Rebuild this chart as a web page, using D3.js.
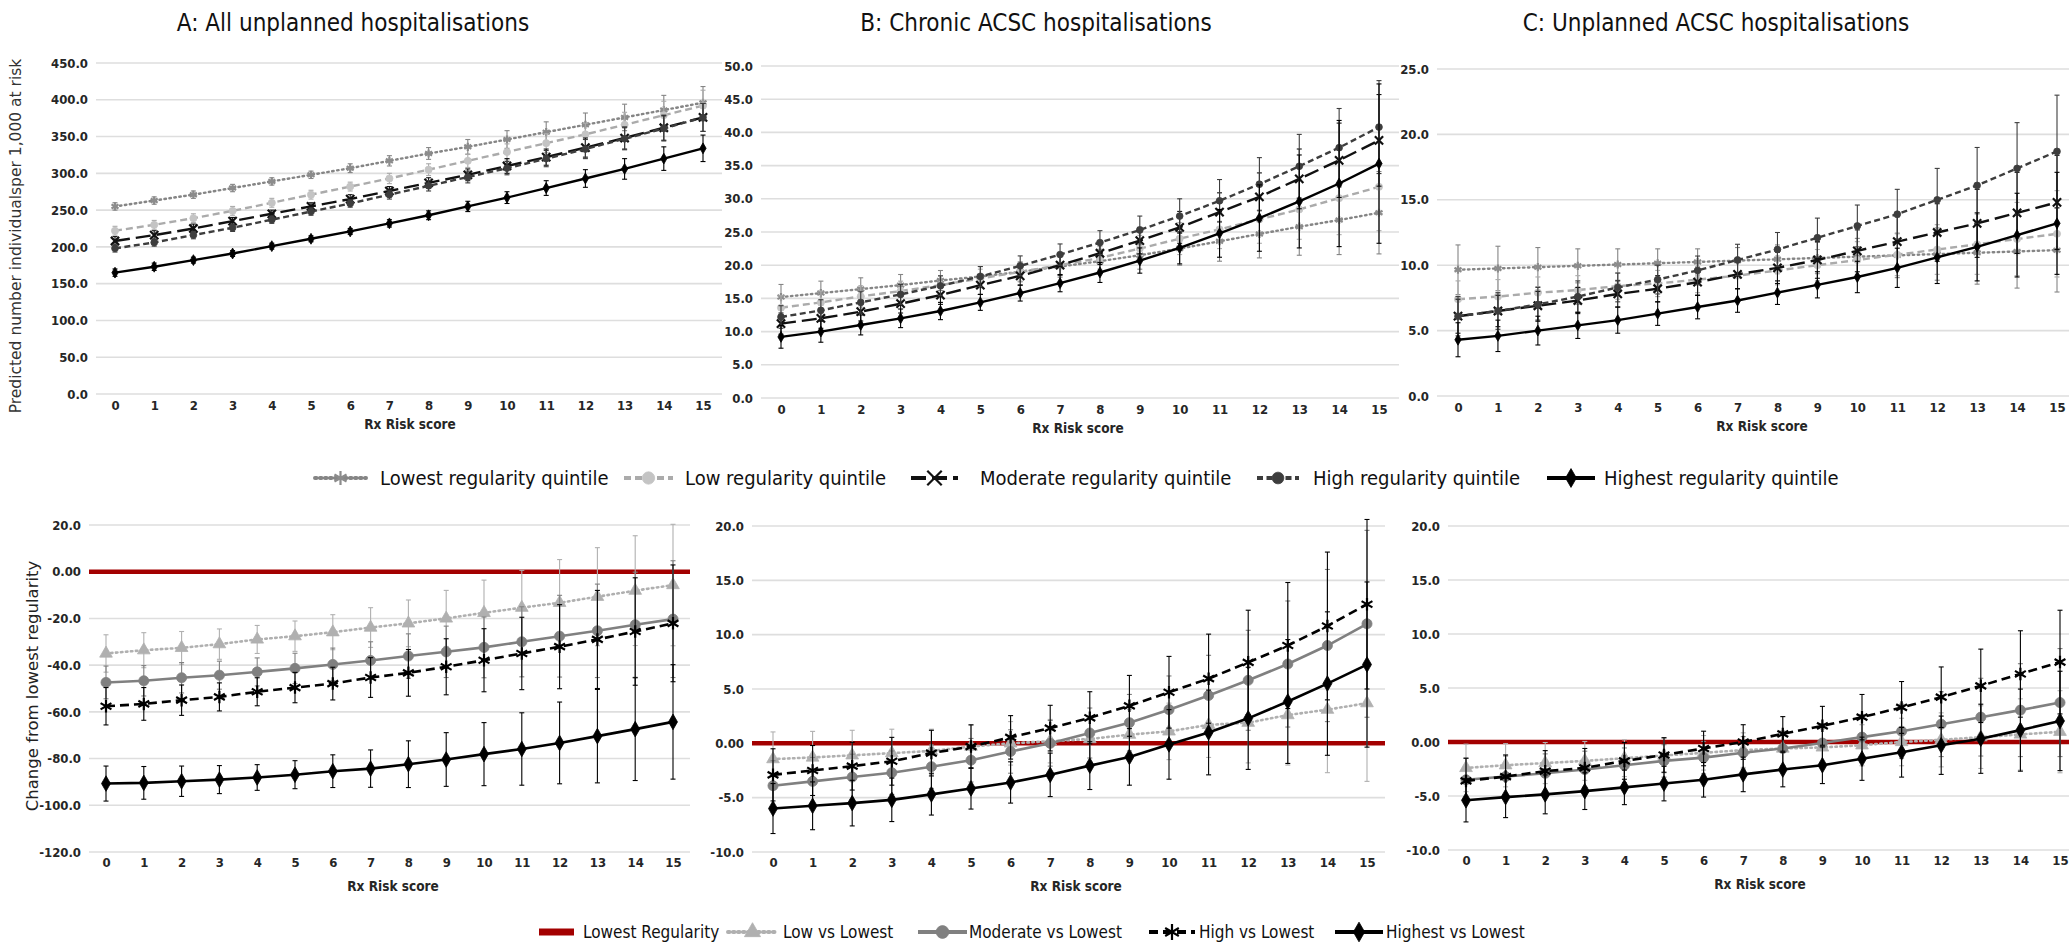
<!DOCTYPE html>
<html>
<head>
<meta charset="utf-8">
<script src="https://cdn.jsdelivr.net/npm/d3@7"></script>
<style>
  body { margin: 0; background: #fff; }
</style>
</head>
<body>
<div id="chart-area"></div>
<script>
// Canvas
var W = 2069, H = 952;
var NARROW = "'Liberation Sans Narrow','DejaVu Sans Condensed','Arial Narrow',sans-serif";
var WIDE = "'DejaVu Sans',Verdana,sans-serif";

// ---------- data ----------
var riskScores = [0,1,2,3,4,5,6,7,8,9,10,11,12,13,14,15];

var panelTitles = ["A: All unplanned hospitalisations", "B: Chronic ACSC hospitalisations", "C: Unplanned ACSC hospitalisations"];
var quintileNames = ["Lowest regularity quintile", "Low regularity quintile", "Moderate regularity quintile", "High regularity quintile", "Highest regularity quintile"];
var contrastNames = ["Lowest Regularity", "Low vs Lowest", "Moderate vs Lowest", "High vs Lowest", "Highest vs Lowest"];

var ticksA = [0,50,100,150,200,250,300,350,400,450];
var ticksB = [0,5,10,15,20,25,30,35,40,45,50];
var ticksC = [0,5,10,15,20,25];
var ticksD = [-120,-100,-80,-60,-40,-20,0,20];
var ticksEF = [-10,-5,0,5,10,15,20];

// A: All unplanned hospitalisations (predicted per 1,000)
var aLowest   = [255,263,271,280,289,298,307,317,327,336,346,356,366,376,386,396];
var aLow      = [222,230,239,249,260,271,282,293,305,317,329,341,353,366,379,392];
var aModerate = [208,216,225,235,245,255,265,276,287,298,310,322,335,348,362,376];
var aHigh     = [198,206,216,226,237,248,259,271,283,295,307,320,333,347,361,376];
var aHighest  = [165,173,182,191,201,211,221,232,243,255,267,280,293,306,320,334];
var aLowestErr   = [5,5,5,5,5,5,6,7,8,10,12,14,16,18,20,22];
var aLowErr      = [6,6,6,6,6,6,6,7,8,9,11,13,15,17,19,21];
var aModerateErr = [6,6,6,5,5,5,6,6,7,8,10,11,13,15,17,19];
var aHighErr     = [5,5,5,5,5,5,5,6,7,8,9,11,13,15,17,19];
var aHighestErr  = [5,5,4,4,4,4,4,5,6,7,8,10,12,14,16,18];

// B: Chronic ACSC hospitalisations
var bLowest   = [15.2,15.8,16.4,17.0,17.7,18.3,19.0,19.8,20.6,21.5,22.5,23.6,24.7,25.8,26.8,27.9];
var bLow      = [13.6,14.4,15.3,16.1,17.0,18.0,19.0,20.0,21.1,22.5,24.0,25.4,26.9,28.4,30.1,31.8];
var bModerate = [11.2,12.0,13.0,14.2,15.5,17.0,18.4,20.0,21.8,23.7,25.7,28.0,30.3,33.0,35.8,38.8];
var bHigh     = [12.2,13.2,14.4,15.6,16.9,18.3,19.9,21.6,23.4,25.3,27.4,29.7,32.2,34.9,37.7,40.8];
var bHighest  = [9.2,10.0,11.0,12.0,13.1,14.4,15.8,17.3,18.9,20.7,22.6,24.8,27.1,29.6,32.3,35.3];
var bLowestErr   = [1.9,1.8,1.7,1.6,1.5,1.5,1.5,1.6,1.8,2.1,2.5,3.0,3.6,4.3,5.2,6.2];
var bLowErr      = [1.8,1.7,1.6,1.5,1.4,1.4,1.4,1.5,1.7,2.0,2.4,2.9,3.6,4.5,5.5,6.6];
var bModerateErr = [1.6,1.5,1.4,1.4,1.4,1.4,1.4,1.5,1.7,2.0,2.4,2.9,3.6,4.5,5.6,6.9];
var bHighErr     = [1.7,1.6,1.6,1.5,1.5,1.5,1.5,1.6,1.8,2.1,2.6,3.2,4.0,4.8,5.9,7.0];
var bHighestErr  = [1.7,1.6,1.5,1.4,1.3,1.2,1.2,1.3,1.5,1.9,2.4,3.6,5.0,7.0,9.5,12.0];

// C: Unplanned ACSC hospitalisations
var cLowest   = [9.65,9.75,9.85,9.95,10.05,10.15,10.25,10.35,10.45,10.55,10.65,10.75,10.85,10.95,11.05,11.15];
var cLow      = [7.4,7.6,7.9,8.1,8.4,8.6,8.9,9.2,9.6,10.0,10.4,10.8,11.2,11.6,12.0,12.4];
var cModerate = [6.1,6.5,6.9,7.3,7.8,8.2,8.7,9.3,9.8,10.4,11.1,11.8,12.5,13.2,14.0,14.8];
var cHigh     = [6.1,6.5,7.0,7.6,8.3,8.9,9.6,10.4,11.2,12.1,13.0,13.9,15.0,16.1,17.4,18.7];
var cHighest  = [4.3,4.6,5.0,5.4,5.8,6.3,6.8,7.3,7.9,8.5,9.1,9.8,10.6,11.4,12.3,13.2];
var cLowestErr   = [1.9,1.7,1.5,1.3,1.2,1.1,1.0,1.0,1.1,1.2,1.4,1.7,2.0,2.4,2.8,3.2];
var cLowErr      = [1.4,1.3,1.2,1.1,1.0,1.0,1.0,1.0,1.1,1.2,1.4,1.6,1.9,2.3,2.8,3.3];
var cModerateErr = [1.3,1.2,1.1,1.0,1.0,1.0,1.0,1.1,1.2,1.4,1.6,1.9,2.2,2.6,3.1,3.6];
var cHighErr     = [1.5,1.4,1.3,1.2,1.1,1.1,1.1,1.2,1.3,1.5,1.6,1.9,2.4,2.9,3.5,4.3];
var cHighestErr  = [1.3,1.2,1.1,1.0,1.0,0.9,0.9,0.9,0.9,1.0,1.2,1.5,2.0,2.6,3.2,3.9];

// D: change vs lowest, all unplanned
var dLow      = [-35,-33.6,-32.6,-31,-29,-27.6,-25.9,-23.9,-22.1,-20,-17.6,-15.4,-13.3,-10.7,-8.1,-5.7];
var dModerate = [-47.4,-46.7,-45.4,-44.3,-42.9,-41.4,-39.7,-38,-36.1,-34.3,-32.4,-30,-27.6,-25.3,-22.7,-20.3];
var dHigh     = [-57.6,-56.6,-55,-53.6,-51.4,-49.6,-47.9,-45.3,-43.3,-40.7,-37.9,-35,-32.1,-29,-25.6,-22.1];
var dHighest  = [-90.7,-90.4,-89.7,-89,-88.1,-86.9,-85.4,-84.3,-82.4,-80.4,-78.1,-75.9,-73.3,-70.4,-67.4,-64.3];
var dLowErr      = [8,7.5,7,6.5,6,6.5,7.5,8.5,10,12,14,16,18.5,21,23.5,26];
var dModerateErr = [7,6.5,6.5,6,6,6.5,7,8,9.5,11,13,15,17.5,20,22.5,25];
var dHighErr     = [8,7,6.5,6,6,6.5,7,8.5,10,12,13.5,15.5,18,21,23,25];
var dHighestErr  = [7.5,7,6.5,6,5.5,6,7,8,10,11.5,13.5,15.5,17.5,20,22,24.5];

// E: change vs lowest, chronic ACSC
var eLow      = [-1.45,-1.3,-1.1,-0.9,-0.7,-0.3,0,0.2,0.4,0.8,1.1,1.7,1.9,2.6,3.1,3.7];
var eModerate = [-3.9,-3.5,-3.1,-2.7,-2.15,-1.55,-0.75,0,0.95,1.9,3.1,4.4,5.8,7.3,9.0,11.0];
var eHigh     = [-2.9,-2.5,-2.1,-1.65,-0.9,-0.3,0.55,1.4,2.35,3.45,4.7,5.95,7.45,9.0,10.8,12.8];
var eHighest  = [-6.0,-5.75,-5.5,-5.2,-4.7,-4.15,-3.6,-2.9,-2.05,-1.25,-0.1,1.0,2.3,3.85,5.5,7.25];
var eLowErr      = [2.5,2.4,2.3,2.2,2.0,2.0,2.0,2.0,2.1,2.3,2.6,3.0,3.7,4.6,5.8,7.2];
var eModerateErr = [2.3,2.2,2.1,2.0,2.0,2.0,2.0,2.1,2.3,2.6,3.1,3.7,4.6,5.8,7.0,8.6];
var eHighErr     = [2.4,2.3,2.2,2.2,2.1,2.0,2.0,2.1,2.4,2.8,3.3,4.1,4.8,5.8,6.8,7.8];
var eHighestErr  = [2.3,2.2,2.1,2.0,1.9,1.9,1.9,2.0,2.2,2.6,3.2,3.9,4.7,5.7,6.6,7.6];

// F: change vs lowest, unplanned ACSC
var fLow      = [-2.4,-2.15,-1.95,-1.75,-1.5,-1.25,-1.0,-0.75,-0.6,-0.5,-0.3,0,0.2,0.45,0.7,0.95];
var fModerate = [-3.5,-3.2,-2.9,-2.55,-2.15,-1.75,-1.45,-1.0,-0.6,-0.1,0.45,1.0,1.65,2.3,2.95,3.65];
var fHigh     = [-3.6,-3.2,-2.7,-2.4,-1.75,-1.2,-0.6,0,0.75,1.5,2.3,3.2,4.15,5.2,6.3,7.4];
var fHighest  = [-5.4,-5.1,-4.85,-4.55,-4.2,-3.85,-3.5,-3.0,-2.55,-2.15,-1.55,-0.95,-0.3,0.3,1.1,1.95];
var fLowErr      = [2.2,2.0,1.9,1.8,1.7,1.6,1.6,1.6,1.6,1.7,1.9,2.2,2.5,2.9,3.3,3.8];
var fModerateErr = [2.0,1.9,1.8,1.7,1.6,1.5,1.5,1.5,1.6,1.8,2.1,2.5,3.0,3.6,4.3,5.0];
var fHighErr     = [2.1,2.0,1.9,1.8,1.7,1.6,1.6,1.6,1.6,1.8,2.1,2.4,2.8,3.4,4.0,4.8];
var fHighestErr  = [2.0,1.9,1.8,1.7,1.6,1.6,1.6,1.6,1.6,1.7,2.0,2.3,2.7,3.2,3.8,4.6];

// ---------- styles ----------
var quintileStyles = [
  { color: "#858585", dash: "1.5,3.5", cap: "round", marker: "asterisk", fill: "#8c8c8c", size: 46 },
  { color: "#ababab", dash: "7,4",     cap: "butt",  marker: "circle",   fill: "#c4c4c4", size: 40 },
  { color: "#111",    dash: "15,6",    cap: "butt",  marker: "x",        fill: "#111",    size: 46 },
  { color: "#3d3d3d", dash: "6,3.5",   cap: "butt",  marker: "circle",   fill: "#3d3d3d", size: 36 },
  { color: "#000",    dash: null,      cap: "butt",  marker: "diamond",  fill: "#000",    size: 34 }
];
var contrastStyles = [
  { color: "#b0b0b0", dash: "1.5,3.5", cap: "round", marker: "triangle", fill: "#b0b0b0", size: 70 },
  { color: "#808080", dash: null,      cap: "butt",  marker: "circle",   fill: "#808080", size: 80 },
  { color: "#000",    dash: "9,5",     cap: "butt",  marker: "asterisk", fill: "#000",    size: 110 },
  { color: "#000",    dash: null,      cap: "butt",  marker: "diamond",  fill: "#000",    size: 70 }
];
var RED = "#a30000";

// layout (pixels)
var topLayout = [
  { grid: [96, 722],   x: [115, 703],   y: [394, 63],  titleX: 353,  labelX: 410 },
  { grid: [761, 1399], x: [781, 1379],  y: [398, 66],  titleX: 1036, labelX: 1078 },
  { grid: [1437, 2069], x: [1458, 2057], y: [396, 69], titleX: 1716, labelX: 1762 }
];
var bottomLayout = [
  { grid: [89, 690],    x: [106, 673],   y: [852, 525], labelX: 393 },
  { grid: [752, 1385],  x: [773, 1367],  y: [852, 526], labelX: 1076 },
  { grid: [1448, 2069], x: [1466, 2060], y: [850, 526], labelX: 1760 }
];
var topLegendX = [[315, 366, 380], [624, 673, 685], [911, 958, 980], [1257, 1299, 1313], [1547, 1595, 1604]];
var bottomLegendX = [[539, 574, 583], [728, 777, 783], [918, 967, 969], [1149, 1195, 1199], [1335, 1383, 1386]];

//SVG Canvas
var svg = d3.select("#chart-area").append("svg")
    .attr("width", W)
    .attr("height", H)
    .style("display", "block");

function markerPath(type, size) {
    var t = {
        circle: d3.symbolCircle, diamond: d3.symbolDiamond, triangle: d3.symbolTriangle,
        x: d3.symbolX || d3.symbolCross, asterisk: d3.symbolAsterisk || d3.symbolCross
    }[type];
    return d3.symbol().type(t).size(size)();
}
function isStroke(type) { return type === "x" || type === "asterisk"; }

function drawMarker(sel, st, scale) {
    var s = st.size * (scale || 1);
    sel.attr("d", markerPath(st.marker, s))
        .attr("fill", isStroke(st.marker) ? "none" : st.fill)
        .attr("stroke", st.fill)
        .attr("stroke-width", isStroke(st.marker) ? 2.2 : 0.8);
}

function fmtTop(d) { return d.toFixed(1); }
function fmtBottom(d) { return d === 0 ? "0.00" : d.toFixed(1); }

function drawPanel(lay, ticks, fmt, seriesVals, seriesErr, styles, isBottom) {
    var g = svg.append("g");
    var x = d3.scalePoint().domain(riskScores).range(lay.x);
    var y = d3.scaleLinear().domain(d3.extent(ticks)).range(lay.y);

    // gridlines
    g.selectAll(".grid").data(ticks).enter().append("line")
        .attr("x1", lay.grid[0]).attr("x2", lay.grid[1])
        .attr("y1", function(d){ return y(d); }).attr("y2", function(d){ return y(d); })
        .attr("stroke", "#dedede").attr("stroke-width", 1.6);

    // y tick labels
    var yAxis = d3.axisLeft(y).tickValues(ticks).tickFormat(fmt).tickSize(0).tickPadding(0);
    var ya = g.append("g").attr("transform", "translate(" + (lay.grid[0] - 8) + ",0)").call(yAxis);
    ya.select(".domain").remove();
    ya.selectAll("text").attr("font-family", NARROW).attr("font-weight", "bold")
        .attr("font-size", "13px").attr("fill", "#262626");

    // x tick labels
    var xAxis = d3.axisBottom(x).tickSize(0).tickPadding(isBottom ? 6 : 7);
    var xa = g.append("g").attr("transform", "translate(0," + lay.y[0] + ")").call(xAxis);
    xa.select(".domain").remove();
    xa.selectAll("text").attr("font-family", NARROW).attr("font-weight", "bold")
        .attr("font-size", "13px").attr("fill", "#262626");

    // x axis title
    g.append("text")
        .attr("x", lay.labelX).attr("y", lay.y[0] + (isBottom ? 39 : 35))
        .attr("text-anchor", "middle")
        .attr("font-family", NARROW).attr("font-weight", "bold").attr("font-size", "13.5px")
        .attr("fill", "#262626")
        .text("Rx Risk score");

    if (isBottom) {
        g.append("line")
            .attr("x1", lay.grid[0]).attr("x2", lay.grid[1])
            .attr("y1", y(0)).attr("y2", y(0))
            .attr("stroke", RED).attr("stroke-width", 4.5);
    }

    seriesVals.forEach(function(vals, i) {
        var st = styles[i], err = seriesErr[i];
        var pts = riskScores.map(function(r, j){ return { r: r, v: vals[j], e: err[j] }; });

        // error bars
        var eb = g.append("g").attr("stroke", st.color).attr("stroke-width", 1.1);
        eb.selectAll(".v").data(pts).enter().append("line")
            .attr("x1", function(d){ return x(d.r); }).attr("x2", function(d){ return x(d.r); })
            .attr("y1", function(d){ return y(d.v - d.e); }).attr("y2", function(d){ return y(d.v + d.e); });
        [-1, 1].forEach(function(sgn) {
            eb.selectAll(".c" + sgn).data(pts).enter().append("line")
                .attr("x1", function(d){ return x(d.r) - 2.5; }).attr("x2", function(d){ return x(d.r) + 2.5; })
                .attr("y1", function(d){ return y(d.v + sgn * d.e); }).attr("y2", function(d){ return y(d.v + sgn * d.e); });
        });

        // line path generator
        var line = d3.line()
            .x(function(d){ return x(d.r); })
            .y(function(d){ return y(d.v); });
        g.append("path")
            .attr("d", line(pts))
            .attr("fill", "none")
            .attr("stroke", st.color)
            .attr("stroke-width", isBottom ? 2.6 : 2.4)
            .attr("stroke-linecap", st.cap)
            .attr("stroke-dasharray", st.dash);

        // markers
        g.selectAll(".m" + i).data(pts).enter().append("path")
            .attr("transform", function(d){ return "translate(" + x(d.r) + "," + y(d.v) + ")"; })
            .call(drawMarker, st);
    });
}

// top row
var topVals = [
  [aLowest, aLow, aModerate, aHigh, aHighest],
  [bLowest, bLow, bModerate, bHigh, bHighest],
  [cLowest, cLow, cModerate, cHigh, cHighest]
];
var topErrs = [
  [aLowestErr, aLowErr, aModerateErr, aHighErr, aHighestErr],
  [bLowestErr, bLowErr, bModerateErr, bHighErr, bHighestErr],
  [cLowestErr, cLowErr, cModerateErr, cHighErr, cHighestErr]
];
var topTicks = [ticksA, ticksB, ticksC];
topLayout.forEach(function(lay, i) {
    drawPanel(lay, topTicks[i], fmtTop, topVals[i], topErrs[i], quintileStyles, false);
    svg.append("text")
        .attr("x", lay.titleX).attr("y", 31)
        .attr("text-anchor", "middle")
        .attr("font-family", NARROW).attr("font-size", "24px").attr("fill", "#111")
        .text(panelTitles[i]);
});

// bottom row
var botVals = [
  [dLow, dModerate, dHigh, dHighest],
  [eLow, eModerate, eHigh, eHighest],
  [fLow, fModerate, fHigh, fHighest]
];
var botErrs = [
  [dLowErr, dModerateErr, dHighErr, dHighestErr],
  [eLowErr, eModerateErr, eHighErr, eHighestErr],
  [fLowErr, fModerateErr, fHighErr, fHighestErr]
];
var botTicks = [ticksD, ticksEF, ticksEF];
bottomLayout.forEach(function(lay, i) {
    drawPanel(lay, botTicks[i], fmtBottom, botVals[i], botErrs[i], contrastStyles, true);
});

//Axis labels (y)
svg.append("text")
    .attr("transform", "translate(21,236) rotate(-90)")
    .attr("text-anchor", "middle")
    .attr("font-family", WIDE).attr("font-size", "15.5px").attr("fill", "#333")
    .text("Predicted number individualsper 1,000 at risk");
svg.append("text")
    .attr("transform", "translate(38,686) rotate(-90)")
    .attr("text-anchor", "middle")
    .attr("font-family", WIDE).attr("font-size", "16.5px").attr("fill", "#222")
    .text("Change from lowest regularity");

// legends
function legendItem(lx, ly, st, label, fontSize, markerScale, lineWidth) {
    var lg = svg.append("g");
    lg.append("line")
        .attr("x1", lx[0]).attr("x2", lx[1]).attr("y1", ly).attr("y2", ly)
        .attr("stroke", st.color).attr("stroke-width", lineWidth || 4)
        .attr("stroke-linecap", st.cap).attr("stroke-dasharray", st.dash);
    if (st.marker) {
        lg.append("path")
            .attr("transform", "translate(" + ((lx[0] + lx[1]) / 2) + "," + ly + ")")
            .call(drawMarker, st, markerScale);
    }
    lg.append("text")
        .attr("x", lx[2]).attr("y", ly).attr("dy", "0.35em")
        .attr("font-family", NARROW).attr("font-size", fontSize).attr("fill", "#111")
        .text(label);
}
quintileNames.forEach(function(name, i) {
    legendItem(topLegendX[i], 478, quintileStyles[i], name, "20px", 3);
});
legendItem(bottomLegendX[0], 932, { color: RED, dash: null, cap: "butt", marker: null }, contrastNames[0], "17px", 1, 7);
contrastStyles.forEach(function(st, i) {
    legendItem(bottomLegendX[i + 1], 932, st, contrastNames[i + 1], "17px", 1.6);
});
</script>
</body>
</html>
